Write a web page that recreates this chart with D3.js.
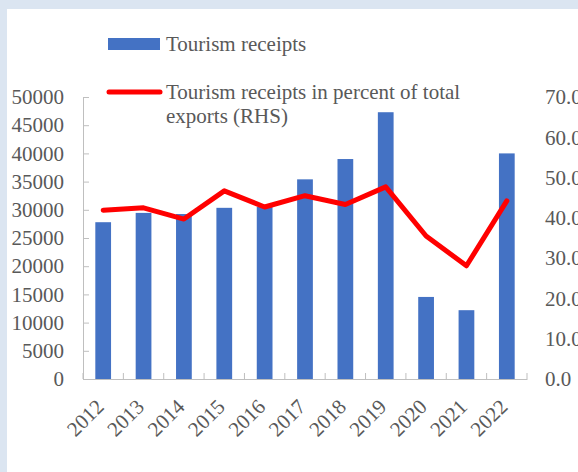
<!DOCTYPE html>
<html>
<head>
<meta charset="utf-8">
<script src="https://cdn.jsdelivr.net/npm/d3@7"></script>
<style>
  body { margin: 0; padding: 0; }
  svg text { font-family: "Liberation Serif", "Times New Roman", serif; fill: #595959; }
</style>
</head>
<body>
<svg id="chart" width="578" height="472"></svg>
<script>
// data
var years = ["2012", "2013", "2014", "2015", "2016", "2017", "2018", "2019", "2020", "2021", "2022"];
var receipts = [27800, 29450, 29250, 30350, 30500, 35400, 39000, 47300, 14550, 12200, 40000];
var receiptsPct = [41.9, 42.5, 39.7, 46.7, 42.7, 45.5, 43.3, 47.7, 35.5, 28.1, 44.2];
var leftTicks = [0, 5000, 10000, 15000, 20000, 25000, 30000, 35000, 40000, 45000, 50000];
var rightTicks = [0, 10, 20, 30, 40, 50, 60, 70];
var legendLabels = ["Tourism receipts", "Tourism receipts in percent of total", "exports (RHS)"];

var svg = d3.select("#chart");
var width = +svg.attr("width");
var height = +svg.attr("height");

var margin = {top: 97, right: 51, bottom: 93, left: 83};
var x0 = margin.left, x1 = width - margin.right;
var y0 = height - margin.bottom, y1 = margin.top;

// frame
svg.append("rect").attr("width", width).attr("height", height).attr("fill", "#dbe5f1");
svg.append("rect").attr("x", 7).attr("y", 9).attr("width", width - 7).attr("height", height - 9).attr("fill", "#ffffff");

// scales
var x = d3.scaleBand().domain(years).range([x0, x1]).paddingInner(0.61).paddingOuter(0.305);
var yL = d3.scaleLinear().domain([0, 50000]).range([y0, y1]);
var yR = d3.scaleLinear().domain([0, 70]).range([y0, y1]);

// bars
svg.append("g").attr("class", "bars")
    .selectAll("rect")
    .data(years)
    .enter().append("rect")
    .attr("x", function(d){ return x(d); })
    .attr("y", function(d, i){ return yL(receipts[i]); })
    .attr("width", x.bandwidth())
    .attr("height", function(d, i){ return y0 - yL(receipts[i]); })
    .attr("fill", "#4472c4");

// left axis (ticks point inward)
var gL = svg.append("g")
    .attr("transform", "translate(" + x0 + ",0)")
    .call(d3.axisLeft(yL).tickValues(leftTicks).tickSizeInner(-6).tickSizeOuter(0).tickPadding(19).tickFormat(d3.format("d")));
gL.select(".domain").attr("stroke", "#bfbfbf");
gL.selectAll(".tick line").attr("stroke", "#bfbfbf");
gL.selectAll("text").style("font-size", "21px").attr("fill", "#595959");

// right axis, labels only
var gR = svg.append("g")
    .attr("transform", "translate(" + x1 + ",0)")
    .call(d3.axisRight(yR).tickValues(rightTicks).tickSize(0).tickPadding(18).tickFormat(d3.format(".1f")));
gR.select(".domain").remove();
gR.selectAll("text").style("font-size", "21px").attr("fill", "#595959");

// x axis
var gX = svg.append("g")
    .attr("transform", "translate(0," + y0 + ")")
    .call(d3.axisBottom(x).tickSize(0).tickSizeOuter(0).tickPadding(0));
gX.select(".domain").attr("stroke", "#bfbfbf");
gX.selectAll("text")
    .style("font-size", "21px")
    .attr("fill", "#595959")
    .attr("text-anchor", "end")
    .attr("dy", null)
    .attr("y", 0)
    .attr("transform", "translate(2,29) rotate(-45)");

// tick marks between categories
var bounds = years.map(function(d){ return x(d) - x.step() * x.paddingInner() / 2; });
bounds.push(x1);
svg.append("g").selectAll("line")
    .data(bounds)
    .enter().append("line")
    .attr("x1", function(d){ return d; })
    .attr("x2", function(d){ return d; })
    .attr("y1", y0)
    .attr("y2", y0 - 6)
    .attr("stroke", "#bfbfbf");

// line (RHS)
var line = d3.line()
    .x(function(d, i){ return x(years[i]) + x.bandwidth() / 2; })
    .y(function(d){ return yR(d); });
svg.append("path")
    .datum(receiptsPct)
    .attr("d", line)
    .attr("fill", "none")
    .attr("stroke", "#ff0000")
    .attr("stroke-width", 5)
    .attr("stroke-linejoin", "round")
    .attr("stroke-linecap", "round");

// legend
var lg = svg.append("g").attr("class", "legend");
lg.append("rect").attr("x", 108).attr("y", 38).attr("width", 52).attr("height", 12).attr("fill", "#4472c4");
lg.append("text").attr("x", 166).attr("y", 51).style("font-size", "21px").text(legendLabels[0]);
lg.append("line").attr("x1", 109).attr("x2", 160).attr("y1", 92).attr("y2", 92)
    .attr("stroke", "#ff0000").attr("stroke-width", 5).attr("stroke-linecap", "round");
lg.append("text").attr("x", 166).attr("y", 99).style("font-size", "21px").text(legendLabels[1]);
lg.append("text").attr("x", 166).attr("y", 123).style("font-size", "21px").text(legendLabels[2]);
</script>
</body>
</html>
